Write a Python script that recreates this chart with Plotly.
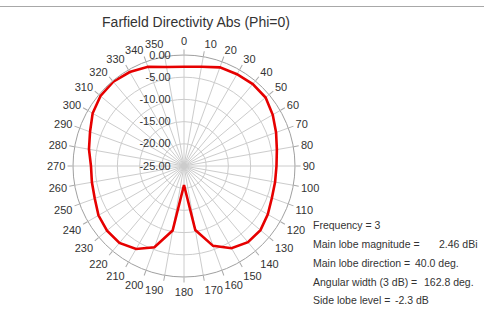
import plotly.graph_objects as go

# Data (angle in degrees, directivity in dB on the plot's scale)
angles = [0, 10, 20, 30, 40, 50, 60, 70, 80, 90, 100, 110, 120, 130, 140, 150, 160, 170,
          180, 190, 200, 210, 220, 230, 240, 250, 260, 270, 280, 290, 300, 310, 320, 330, 340, 350]
directivity = [-2.64, -2.30, -1.35, -1.13, -0.90, -1.01, -1.92, -2.93, -3.76, -4.17, -4.17, -3.94,
               -3.20, -2.52, -2.59, -3.61, -5.86, -10.36, -20.72, -10.25, -5.52, -3.43, -2.37, -2.37,
               -2.75, -3.61, -3.94, -4.05, -3.27, -2.48, -1.24, -0.45, -0.23, -0.56, -1.24, -2.37]
angle_ticks = list(range(0, 360, 10))
radial_ticks = [-25, -20, -15, -10, -5, 0]
info_labels = ["Frequency = 3", "Main lobe magnitude =", "Main lobe direction =",
               "Angular width (3 dB) =", "Side lobe level ="]
info_values = ["", "2.46 dBi", "40.0 deg.", "162.8 deg.", "-2.3 dB"]

W, H = 484, 317
FONT = "Liberation Sans"
TXT = "#333333"
R_MIN, R_MAX = -25, 0

fig = go.Figure()
fig.add_trace(go.Scatterpolar(
    r=directivity + [directivity[0]],
    theta=angles + [angles[0]],
    mode="lines",
    line=dict(color="#e60000", width=2.6),
    showlegend=False,
    hoverinfo="skip",
))

cx, cy, R = 184, 166, 111
fig.update_layout(
    width=W, height=H,
    margin=dict(l=0, r=0, t=0, b=0),
    paper_bgcolor="white",
    font=dict(family=FONT, size=11, color=TXT),
    title=dict(text="Farfield Directivity Abs (Phi=0)", x=196 / W, y=1 - 22.5 / H,
               xanchor="center", yanchor="middle",
               font=dict(family=FONT, size=14, color=TXT)),
    polar=dict(
        bgcolor="white",
        domain=dict(x=[(cx - R) / W, (cx + R) / W], y=[(H - cy - R) / H, (H - cy + R) / H]),
        angularaxis=dict(
            rotation=90, direction="clockwise",
            tickmode="array", tickvals=angle_ticks, ticktext=[str(a) for a in angle_ticks],
            ticks="outside", ticklen=5, tickcolor="#aaaaaa",
            showline=True, linecolor="#a0a0a0", linewidth=1,
            gridcolor="#cccccc", gridwidth=1,
            tickfont=dict(family=FONT, size=11, color=TXT),
        ),
        radialaxis=dict(
            range=[R_MIN, R_MAX], tickmode="array", tickvals=radial_ticks,
            ticktext=["%.2f" % v for v in radial_ticks],
            angle=90, tickangle=90, side="counterclockwise",
            showline=False, ticks="outside", ticklen=9, tickcolor="rgba(0,0,0,0)",
            gridcolor="#cccccc", gridwidth=1,
            tickfont=dict(family=FONT, size=11, color=TXT),
        ),
    ),
    shapes=[dict(type="line", xref="paper", yref="paper", x0=0, x1=1,
                 y0=1 - 6.5 / H, y1=1 - 6.5 / H, line=dict(color="#a8a8a8", width=1))],
)

ys = [225, 244, 263, 282, 300]
value_x = [None, 437, 413, 422, 393]
for lab, val, yy, vx in zip(info_labels, info_values, ys, value_x):
    fig.add_annotation(text=lab, xref="paper", yref="paper", x=311 / W, y=1 - yy / H,
                       xanchor="left", yanchor="middle", showarrow=False,
                       font=dict(family=FONT, size=10.5, color=TXT))
    if val:
        fig.add_annotation(text=val, xref="paper", yref="paper", x=vx / W, y=1 - yy / H,
                           xanchor="left", yanchor="middle", showarrow=False,
                           font=dict(family=FONT, size=10.5, color=TXT))

fig.write_html("out.html", config={"displayModeBar": False},
               post_script="document.body.style.margin='0px';")
